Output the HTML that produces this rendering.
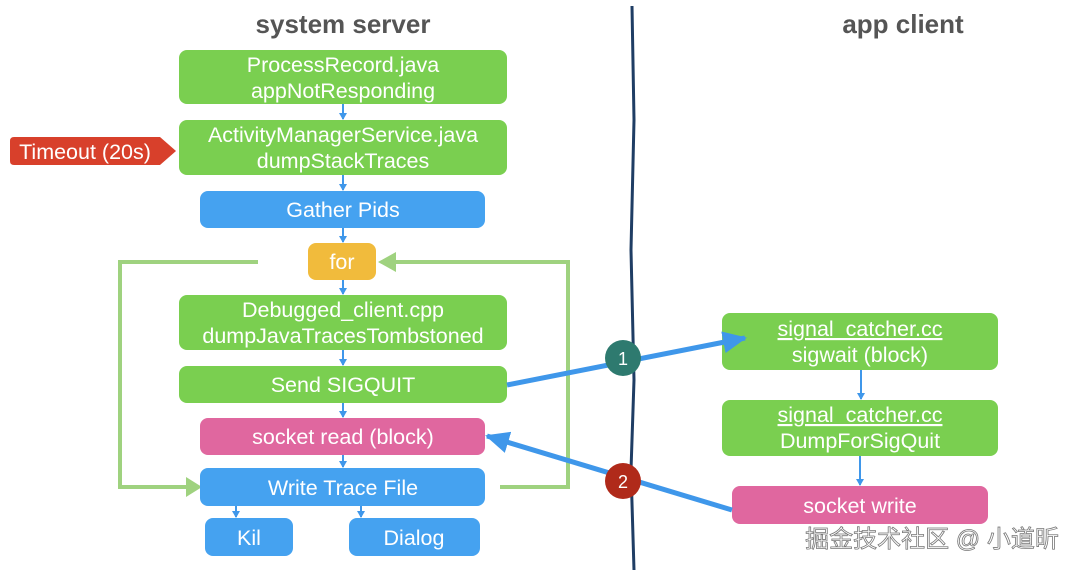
<!DOCTYPE html>
<html><head><meta charset="utf-8"><style>
body{margin:0;background:#fff;width:1080px;height:570px;overflow:hidden}
text{font-family:"Liberation Sans","Noto Sans CJK SC",sans-serif;fill:#fff;text-anchor:middle}
</style></head><body>
<svg width="1080" height="570" viewBox="0 0 1080 570" xmlns="http://www.w3.org/2000/svg">
<defs>
<marker id="sa" markerWidth="8" markerHeight="8" refX="6" refY="4" orient="auto" markerUnits="userSpaceOnUse"><path d="M0,0 L7,4 L0,8 z" fill="#3f97ea"/></marker>
<marker id="ba" markerWidth="26" markerHeight="22" refX="22" refY="11" orient="auto" markerUnits="userSpaceOnUse"><path d="M0,0 L24,11 L0,22 z" fill="#3f97ea"/></marker>
</defs>
<text x="343" y="33" style="fill:#555;font-size:26px;font-weight:bold">system server</text>
<text x="903" y="33" style="fill:#555;font-size:26px;font-weight:bold">app client</text>
<path d="M632,6 L634,120 L631,250 L634,380 L631,470 L634,570" stroke="#1f3d64" stroke-width="3" fill="none"/>
<path d="M258,262 L120,262 L120,487 L190,487" stroke="#9fd27f" stroke-width="4" fill="none"/>
<path d="M186,477 L202,487 L186,497 z" fill="#9fd27f"/>
<path d="M500,487 L568,487 L568,262 L392,262" stroke="#9fd27f" stroke-width="4" fill="none"/>
<path d="M396,252 L378,262 L396,272 z" fill="#9fd27f"/>
<g stroke="#3f97ea" stroke-width="2" marker-end="url(#sa)">
<line x1="343" y1="104" x2="343" y2="119"/><line x1="343" y1="175" x2="343" y2="190"/>
<line x1="343" y1="228" x2="343" y2="242"/><line x1="343" y1="280" x2="343" y2="294"/>
<line x1="343" y1="350" x2="343" y2="365"/><line x1="343" y1="403" x2="343" y2="417"/>
<line x1="343" y1="455" x2="343" y2="467"/><line x1="236" y1="506" x2="236" y2="517"/>
<line x1="361" y1="506" x2="361" y2="517"/>
<line x1="861" y1="370" x2="861" y2="399"/><line x1="860" y1="456" x2="860" y2="485"/>
</g>
<g font-size="21.5">
<rect x="179" y="50" width="328" height="54" rx="8" fill="#7acf50"/>
<text x="343" y="72">ProcessRecord.java</text>
<text x="343" y="98">appNotResponding</text>
<rect x="179" y="120" width="328" height="55" rx="8" fill="#7acf50"/>
<text x="343" y="142">ActivityManagerService.java</text>
<text x="343" y="168">dumpStackTraces</text>
<path d="M14,137 L160,137 L176,151 L160,165 L14,165 Q10,165 10,161 L10,141 Q10,137 14,137 z" fill="#d8402b"/>
<text x="85" y="159">Timeout (20s)</text>
<rect x="200" y="191" width="285" height="37" rx="8" fill="#45a2f0"/>
<text x="343" y="217">Gather Pids</text>
<rect x="308" y="243" width="68" height="37" rx="8" fill="#f1bb3c"/>
<text x="342" y="269">for</text>
<rect x="179" y="295" width="328" height="55" rx="8" fill="#7acf50"/>
<text x="343" y="317">Debugged_client.cpp</text>
<text x="343" y="343">dumpJavaTracesTombstoned</text>
<rect x="179" y="366" width="328" height="37" rx="8" fill="#7acf50"/>
<text x="343" y="392">Send SIGQUIT</text>
<rect x="200" y="418" width="285" height="37" rx="8" fill="#e0679f"/>
<text x="343" y="444">socket read  (block)</text>
<rect x="200" y="468" width="285" height="38" rx="8" fill="#45a2f0"/>
<text x="343" y="495">Write Trace File</text>
<rect x="205" y="518" width="88" height="38" rx="8" fill="#45a2f0"/>
<text x="249" y="545">Kil</text>
<rect x="349" y="518" width="131" height="38" rx="8" fill="#45a2f0"/>
<text x="414" y="545">Dialog</text>
<rect x="722" y="313" width="276" height="57" rx="8" fill="#7acf50"/>
<text x="860" y="336" text-decoration="underline">signal_catcher.cc</text>
<text x="860" y="362">sigwait  (block)</text>
<rect x="722" y="400" width="276" height="56" rx="8" fill="#7acf50"/>
<text x="860" y="422" text-decoration="underline">signal_catcher.cc</text>
<text x="860" y="448">DumpForSigQuit</text>
<rect x="732" y="486" width="256" height="38" rx="8" fill="#e0679f"/>
<text x="860" y="513">socket write</text>
</g>
<line x1="507" y1="385" x2="745" y2="338" stroke="#3f97ea" stroke-width="5" marker-end="url(#ba)"/>
<line x1="732" y1="510" x2="487" y2="436" stroke="#3f97ea" stroke-width="5" marker-end="url(#ba)"/>
<circle cx="623" cy="358" r="18" fill="#2e7a6f"/>
<text x="623" y="365" font-size="18">1</text>
<circle cx="623" cy="481" r="18" fill="#b02a1a"/>
<text x="623" y="488" font-size="18">2</text>
<text x="932" y="547" font-size="24" style="fill:#fff;stroke:#777;stroke-width:0.8">掘金技术社区 @ 小道昕</text>
</svg>
</body></html>
